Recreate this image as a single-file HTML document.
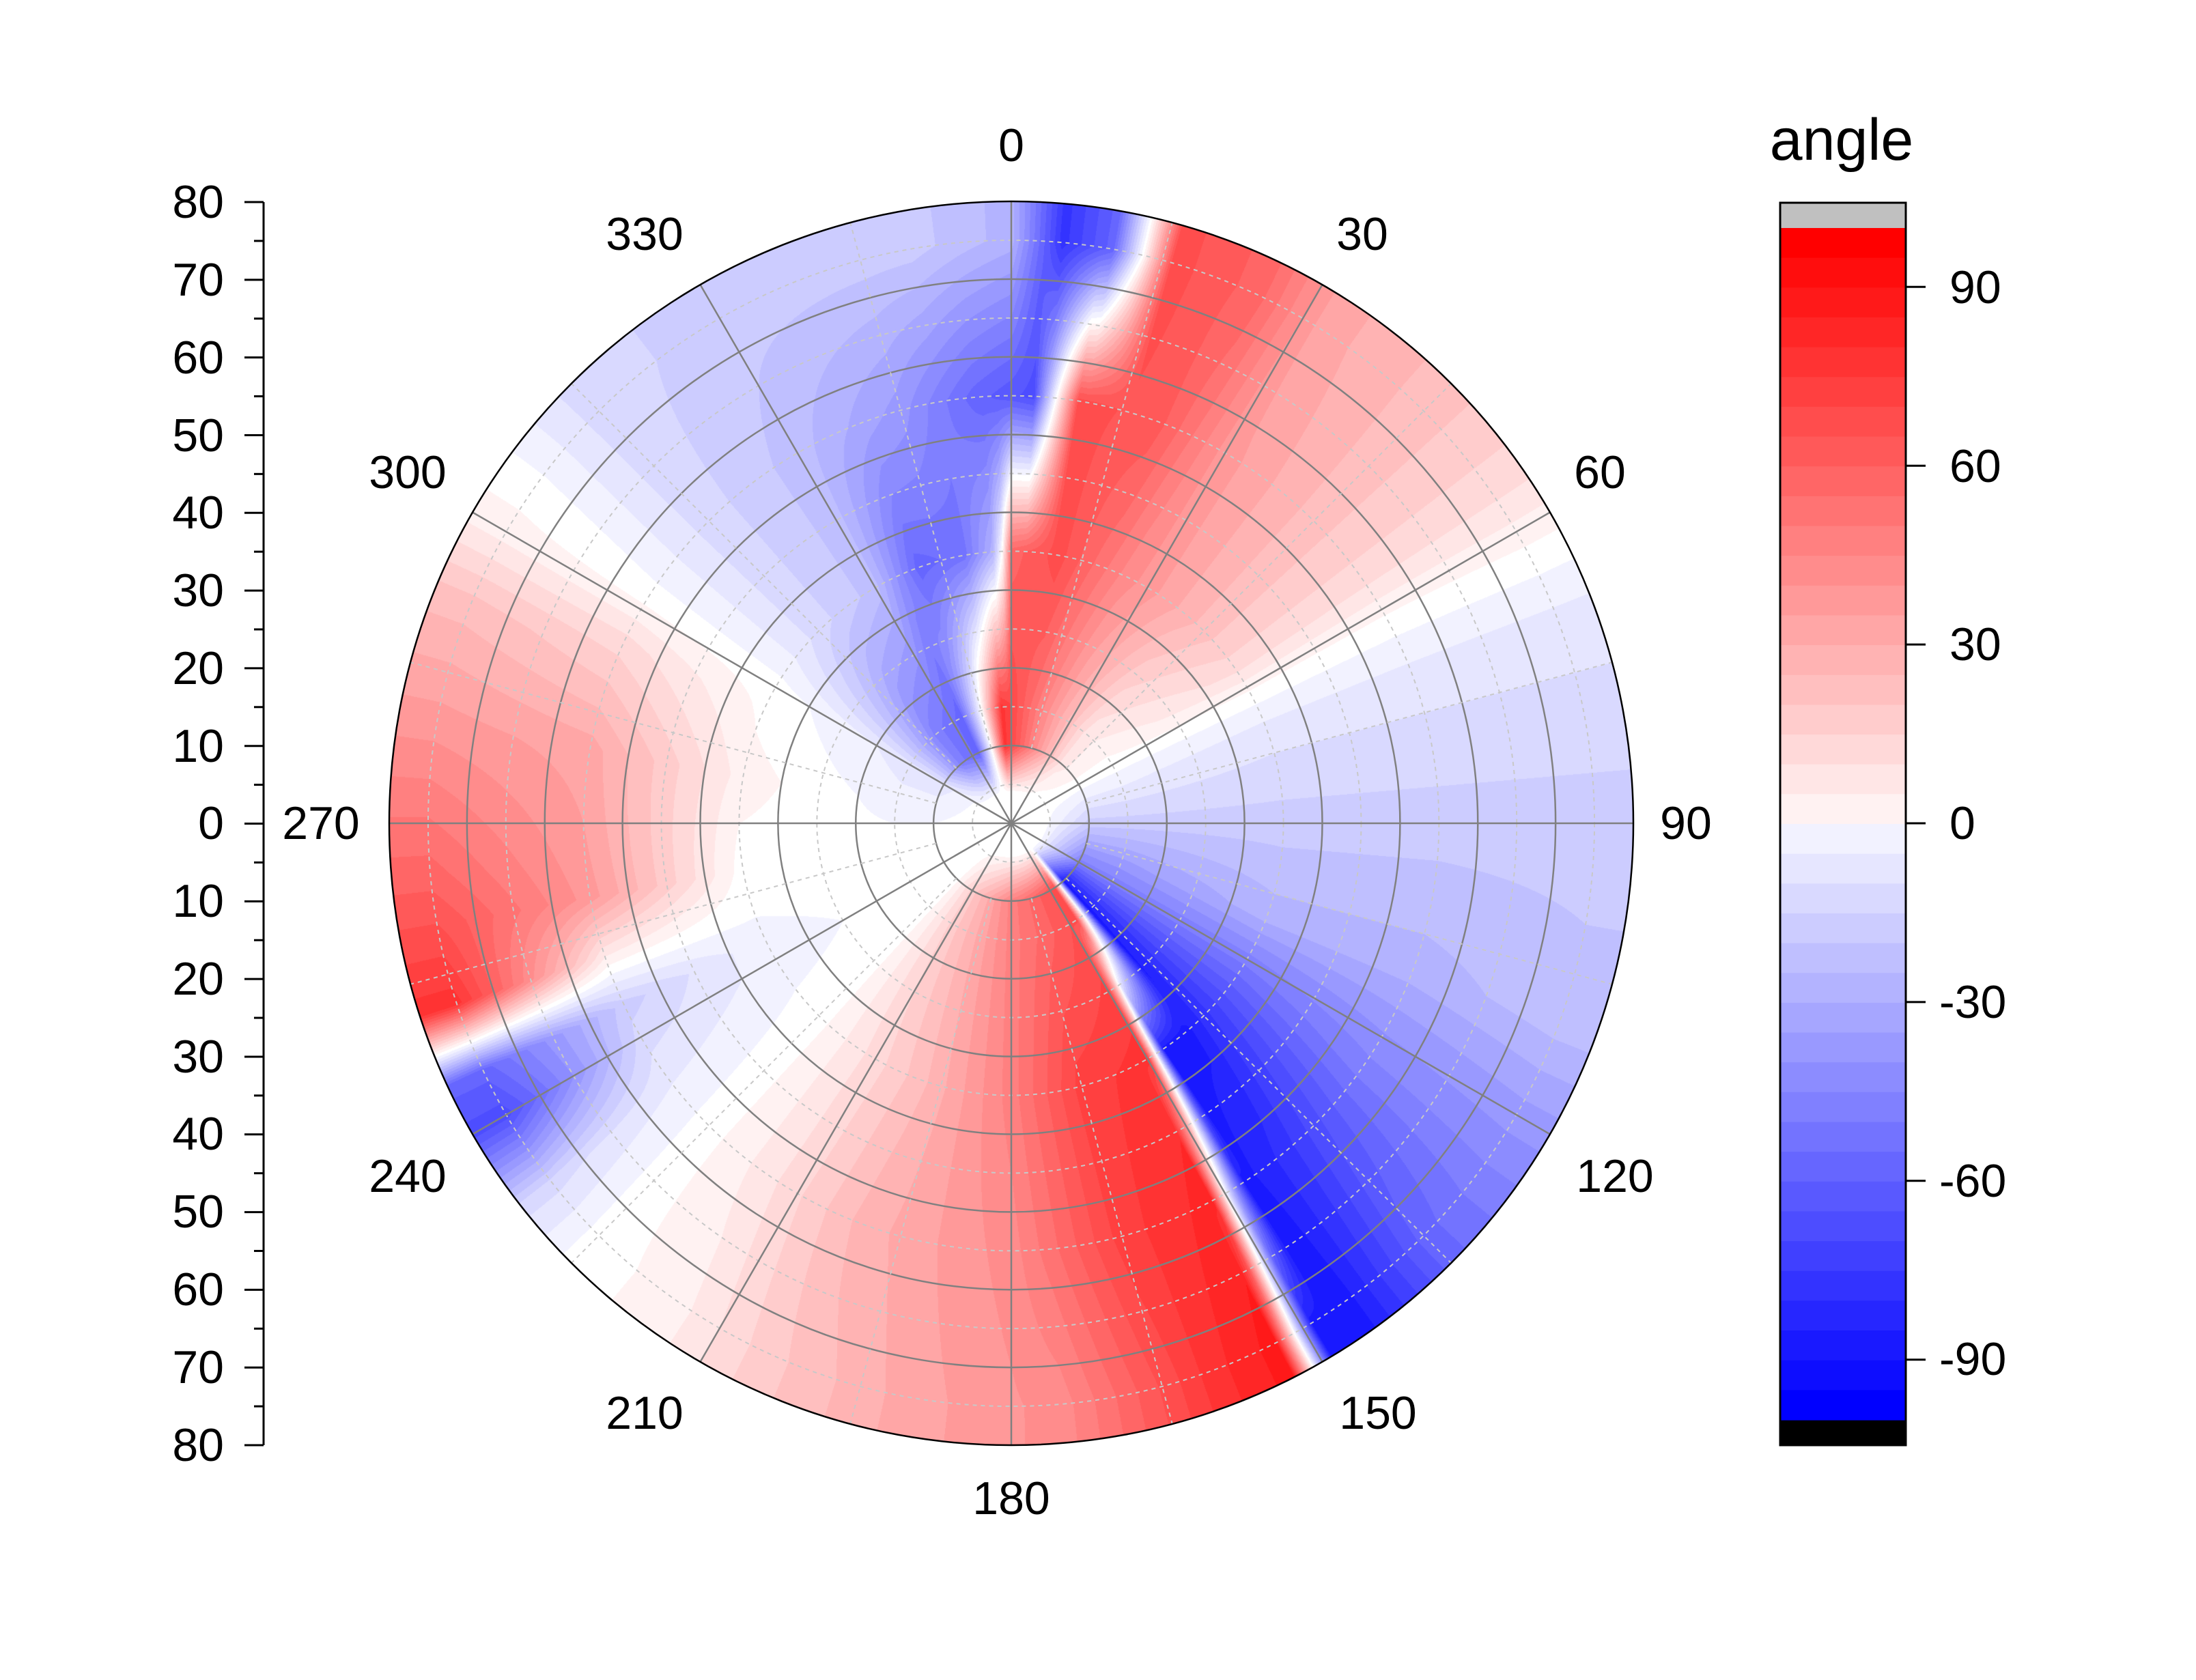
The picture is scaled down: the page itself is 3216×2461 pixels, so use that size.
<!DOCTYPE html>
<html><head><meta charset="utf-8">
<style>
html,body{margin:0;padding:0;background:#fff;}
#wrap{position:relative;width:3216px;height:2461px;overflow:hidden;background:#fff;}
canvas{position:absolute;left:570px;top:295px;}
svg{position:absolute;left:0;top:0;}
text{font-family:"Liberation Sans",Arial,sans-serif;fill:#000;}
</style></head><body>
<div id="wrap">
<canvas id="c" width="1822" height="1822"></canvas>
<svg id="s" width="3216" height="2461" viewBox="0 0 3216 2461">
<g id="grid"></g>
<g id="cb"></g>
<g font-size="68" text-anchor="middle" dominant-baseline="central">
<text x="1481" y="213">0</text>
<text x="1995" y="343">30</text>
<text x="2343" y="692">60</text>
<text x="2469" y="1206">90</text>
<text x="2365" y="1723">120</text>
<text x="2018" y="2070">150</text>
<text x="1481" y="2195">180</text>
<text x="944" y="2070">210</text>
<text x="597" y="1723">240</text>
<text x="470" y="1206">270</text>
<text x="597" y="692">300</text>
<text x="944" y="343">330</text>
</g>
<g font-size="68" text-anchor="end" dominant-baseline="central">
<text x="328" y="296">80</text>
<text x="328" y="410">70</text>
<text x="328" y="524">60</text>
<text x="328" y="638">50</text>
<text x="328" y="751">40</text>
<text x="328" y="865">30</text>
<text x="328" y="979">20</text>
<text x="328" y="1093">10</text>
<text x="328" y="1206">0</text>
<text x="328" y="1320">10</text>
<text x="328" y="1434">20</text>
<text x="328" y="1548">30</text>
<text x="328" y="1661">40</text>
<text x="328" y="1775">50</text>
<text x="328" y="1889">60</text>
<text x="328" y="2003">70</text>
<text x="328" y="2117">80</text>
</g>
<text x="2697" y="205" font-size="86" text-anchor="middle" dominant-baseline="central">angle</text>
<g font-size="68" dominant-baseline="central">
<text x="2855" y="421">90</text>
<text x="2855" y="683">60</text>
<text x="2855" y="944">30</text>
<text x="2855" y="1206">0</text>
<text x="2840" y="1468">-30</text>
<text x="2840" y="1730">-60</text>
<text x="2840" y="1991">-90</text>
</g>
</svg>
</div>
<script>
(function(){
var CX=911,CY=911,R=911;
var P15=[[-40,-50],[-25,-60],[-15,0],[-5,80],[20,40],[40,10],[60,0],[90,-20],[120,-50],[138,-90],[142,0],[146,70],[180,50],[210,20],[225,0],[260,0],[300,-10],[320,-50]];
var P35=[[-30,-25],[-20,-60],[-10,-55],[-4,-30],[-2,0],[0,60],[10,70],[25,45],[40,30],[55,15],[62,0],[70,-10],[90,-20],[110,-30],[125,-60],[140,-90],[146,-90],[148,0],[150,80],[165,75],[180,50],[200,25],[215,10],[225,0],[240,-5],[260,0],[280,5],[300,0],[315,-15],[330,-25]];
var P55=[[-45,-15],[-30,-25],[-15,-40],[-5,-60],[3,-70],[6,0],[9,70],[20,65],[30,40],[45,25],[55,15],[62,0],[70,-10],[90,-20],[110,-30],[125,-50],[140,-80],[147,-90],[150,0],[152,85],[165,75],[180,45],[200,30],[215,10],[225,0],[235,-10],[245,-20],[250,0],[260,40],[280,35],[295,15],[302,0]];
var P75=[[-10,-20],[0,-30],[5,-80],[10,-60],[13,0],[16,70],[25,60],[32,35],[45,25],[55,15],[63,0],[70,-10],[90,-20],[110,-25],[120,-40],[135,-60],[145,-90],[149,-90],[151,0],[153,90],[160,80],[175,45],[190,35],[205,20],[215,5],[225,0],[232,-15],[240,-70],[245,-60],[248,0],[252,80],[265,60],[280,40],[292,25],[300,5],[305,0],[315,-15],[330,-20],[350,-20]];
function interp(P,t){
 var n=P.length,a0=P[0][0];
 while(t<a0)t+=360; while(t>=a0+360)t-=360;
 for(var i=0;i<n;i++){
  var p=P[i],q=i+1<n?P[i+1]:[P[0][0]+360,P[0][1]];
  if(t>=p[0]&&t<=q[0]){var f=(t-p[0])/(q[0]-p[0]||1);return p[1]+(q[1]-p[1])*f;}
 }
 return 0;
}
function field(t,r){
 if(r<4)return 0;
 if(r<15)return interp(P15,t)*Math.min(1,(r-4)/6);
 if(r<35){var f=(r-15)/20;return interp(P15,t)*(1-f)+interp(P35,t)*f;}
 if(r<55){var f=(r-35)/20;return interp(P35,t)*(1-f)+interp(P55,t)*f;}
 var f=Math.min(1,(r-55)/20);return interp(P55,t)*(1-f)+interp(P75,t)*f;
}
function col(v){
 var q=Math.round(v/5)*5; if(q>100)q=100;if(q<-100)q=-100;
 var t=Math.abs(q)/100, w=Math.round(255*(1-t));
 return q>=0?[255,w,w]:[w,w,255];
}
var c=document.getElementById('c'),ctx=c.getContext('2d');
var img=ctx.createImageData(1822,1822),d=img.data;
for(var y=0;y<1822;y++)for(var x=0;x<1822;x++){
 var dx=x-CX,dy=y-CY,rr=Math.sqrt(dx*dx+dy*dy);
 if(rr>R)continue;
 var th=Math.atan2(dx,-dy)*180/Math.PI; if(th<0)th+=360;
 var cc=col(field(th,rr/R*80));
 var k=(y*1822+x)*4;d[k]=cc[0];d[k+1]=cc[1];d[k+2]=cc[2];d[k+3]=255;
}
ctx.putImageData(img,0,0);
var NS="http://www.w3.org/2000/svg";
function el(g,n,a){var e=document.createElementNS(NS,n);for(var k in a)e.setAttribute(k,a[k]);g.appendChild(e);return e;}
var g=document.getElementById('grid'),ox=1481,oy=1206,step=911/8;
for(var i=1;i<16;i++){
 var r=i*step/2;
 if(i%2)el(g,'circle',{cx:ox,cy:oy,r:r,fill:'none',stroke:'#c8c8c8','stroke-width':2,'stroke-dasharray':'6 6'});
 else el(g,'circle',{cx:ox,cy:oy,r:r,fill:'none',stroke:'#808080','stroke-width':2.5});
}
for(var a=0;a<360;a+=15){
 var s=Math.sin(a*Math.PI/180),k=-Math.cos(a*Math.PI/180);
 if(a%30==0)el(g,'line',{x1:ox,y1:oy,x2:ox+911*s,y2:oy+911*k,stroke:'#808080','stroke-width':2.5});
 else el(g,'line',{x1:ox+step*s,y1:oy+step*k,x2:ox+911*s,y2:oy+911*k,stroke:'#c8c8c8','stroke-width':2,'stroke-dasharray':'6 6'});
}
el(g,'circle',{cx:ox,cy:oy,r:911,fill:'none',stroke:'#000','stroke-width':2.5});
el(g,'line',{x1:386,y1:296,x2:386,y2:2117,stroke:'#000','stroke-width':3});
for(var i=0;i<=32;i++){var y=296+i*(1821/32);el(g,'line',{x1:i%2?372:358,y1:y,x2:386,y2:y,stroke:'#000','stroke-width':3});}
var cb=document.getElementById('cb');
el(cb,'rect',{x:2607,y:297,width:184,height:37,fill:'#c0c0c0'});
el(cb,'rect',{x:2607,y:2080,width:184,height:37,fill:'#000'});
var cbTop=334,h=(2080-334)/40;
for(var i=0;i<40;i++){var v=100-(i+0.5)*5;var cc=col(v>0?v+2.5:v-2.5);
 el(cb,'rect',{x:2607,y:cbTop+i*h,width:184,height:h+0.6,fill:'rgb('+cc.join(',')+')'});}
el(cb,'rect',{x:2607,y:297,width:184,height:1820,fill:'none',stroke:'#000','stroke-width':3});
[90,60,30,0,-30,-60,-90].forEach(function(v){var y=1206-v*8.73;el(cb,'line',{x1:2791,y1:y,x2:2820,y2:y,stroke:'#000','stroke-width':3});});
})();
</script>
</body></html>
